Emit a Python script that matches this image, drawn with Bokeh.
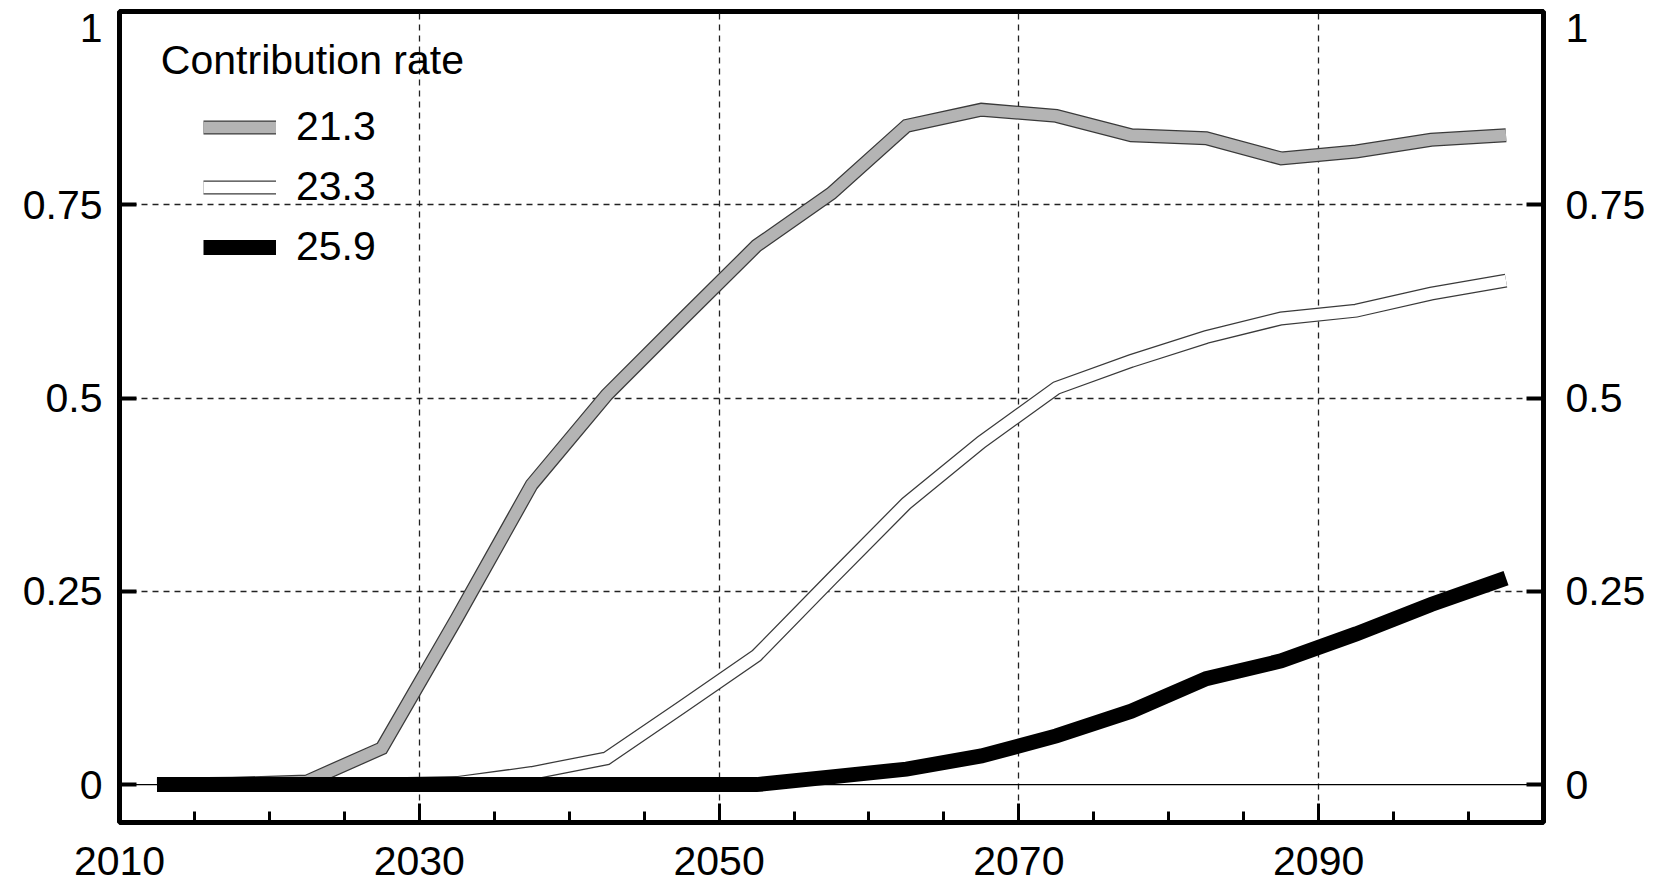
from bokeh.plotting import figure
from bokeh.models import (LinearAxis, FixedTicker, Span, Label, Legend, LegendItem,
                          Range1d, ColumnDataSource)
from bokeh.embed import file_html
from bokeh.resources import INLINE

# ---- data ----
years = [2012.5, 2017.5, 2022.5, 2027.5, 2032.5, 2037.5, 2042.5, 2047.5, 2052.5, 2057.5,
         2062.5, 2067.5, 2072.5, 2077.5, 2082.5, 2087.5, 2092.5, 2097.5, 2102.5]
rate_21_3 = [0.0, 0.001, 0.004, 0.047, 0.215, 0.388, 0.504, 0.601, 0.697, 0.765,
             0.852, 0.873, 0.865, 0.840, 0.836, 0.810, 0.819, 0.834, 0.840]
rate_23_3 = [0.0, 0.0, 0.0, 0.0, 0.002, 0.015, 0.034, 0.100, 0.167, 0.266,
             0.364, 0.443, 0.513, 0.548, 0.579, 0.603, 0.613, 0.635, 0.652]
rate_25_9 = [0.0, 0.0, 0.0, 0.0, 0.0, 0.0, 0.0, 0.0, 0.0, 0.010,
             0.020, 0.037, 0.063, 0.095, 0.137, 0.160, 0.195, 0.233, 0.267]
series_labels = ["21.3", "23.3", "25.9"]
legend_title = "Contribution rate"

x_ticks = [2010, 2030, 2050, 2070, 2090]
x_tick_labels = ["2010", "2030", "2050", "2070", "2090"]
x_minor_ticks = [2015, 2020, 2025, 2035, 2040, 2045, 2055, 2060, 2065, 2075, 2080, 2085, 2095, 2100]
x_grid = [2030, 2050, 2070, 2090]
y_ticks = [0, 0.25, 0.5, 0.75, 1]
y_tick_labels = ["0", "0.25", "0.5", "0.75", "\n1"]   # "1" sits just below the top frame line
y_grid = [0.25, 0.5, 0.75]

FONT = "Liberation Sans"
FS = "41px"
OUTLINE = "#3a3a3a"
GRAY = "#b4b4b4"

src = ColumnDataSource(dict(year=years, a=rate_21_3, b=rate_23_3, c=rate_25_9))

p = figure(width=1661, height=883, x_range=Range1d(2010, 2105), y_range=Range1d(-0.049, 1.0),
           output_backend="svg", toolbar_location=None,
           min_border_left=119, min_border_right=118, min_border_top=11, min_border_bottom=61,
           background_fill_color="white", border_fill_color="white")
p.outline_line_color = "black"
p.outline_line_width = 5

# grids
p.xgrid.ticker = FixedTicker(ticks=x_grid)
p.ygrid.ticker = FixedTicker(ticks=y_grid)
for g in (p.xgrid, p.ygrid):
    g.grid_line_color = "#222222"
    g.grid_line_width = 1.3
    g.grid_line_dash = "6 5"

# zero line
p.add_layout(Span(location=0, dimension="width", line_color="black", line_width=1.3, level="underlay"))

# x axis
xa = p.xaxis[0]
xa.ticker = FixedTicker(ticks=x_ticks, minor_ticks=x_minor_ticks)
xa.major_label_overrides = {t: l for t, l in zip(x_ticks, x_tick_labels)}
xa.axis_line_color = None
xa.major_tick_in = 19
xa.major_tick_out = 0
xa.minor_tick_in = 11
xa.minor_tick_out = 0
xa.major_tick_line_width = 3
xa.minor_tick_line_width = 3
xa.major_tick_line_color = "black"
xa.minor_tick_line_color = "black"
xa.major_label_standoff = 24
xa.major_label_text_font = FONT
xa.major_label_text_font_size = FS
xa.major_label_text_color = "black"


def style_y(ax, standoff):
    ax.ticker = FixedTicker(ticks=y_ticks)
    ax.major_label_overrides = {t: l for t, l in zip(y_ticks, y_tick_labels)}
    ax.axis_line_color = None
    ax.major_tick_in = 17
    ax.major_tick_out = 0
    ax.minor_tick_line_color = None
    ax.major_tick_line_width = 4
    ax.major_tick_line_color = "black"
    ax.major_label_standoff = standoff
    ax.major_label_text_font = FONT
    ax.major_label_text_font_size = FS
    ax.major_label_text_line_height = 0.09
    ax.major_label_text_color = "black"


style_y(p.yaxis[0], 17)
ry = LinearAxis()
style_y(ry, 22)
p.add_layout(ry, "right")

# lines
kw = dict(line_join="miter", line_cap="butt")
a_out = p.line("year", "a", source=src, line_width=14, line_color=OUTLINE, **kw)
a_in = p.line("year", "a", source=src, line_width=11.5, line_color=GRAY, **kw)
b_out = p.line("year", "b", source=src, line_width=14, line_color=OUTLINE, **kw)
b_in = p.line("year", "b", source=src, line_width=11.5, line_color="white", **kw)
c_ln = p.line("year", "c", source=src, line_width=15, line_color="black", **kw)

legend = Legend(items=[LegendItem(label=series_labels[0], renderers=[a_out, a_in]),
                       LegendItem(label=series_labels[1], renderers=[b_out, b_in]),
                       LegendItem(label=series_labels[2], renderers=[c_ln])],
                location=(84, 552), glyph_width=73, glyph_height=20, label_standoff=20,
                spacing=13, padding=0, margin=0, border_line_color=None,
                background_fill_alpha=0, label_text_font=FONT, label_text_font_size=FS,
                label_text_color="black")
p.add_layout(legend)

p.add_layout(Label(x=2012.76, y=0.937, text=legend_title, text_align="left",
                   text_baseline="alphabetic", text_font=FONT, text_font_size=FS, text_color="black"))

open("out.html", "w").write(file_html(p, INLINE))
